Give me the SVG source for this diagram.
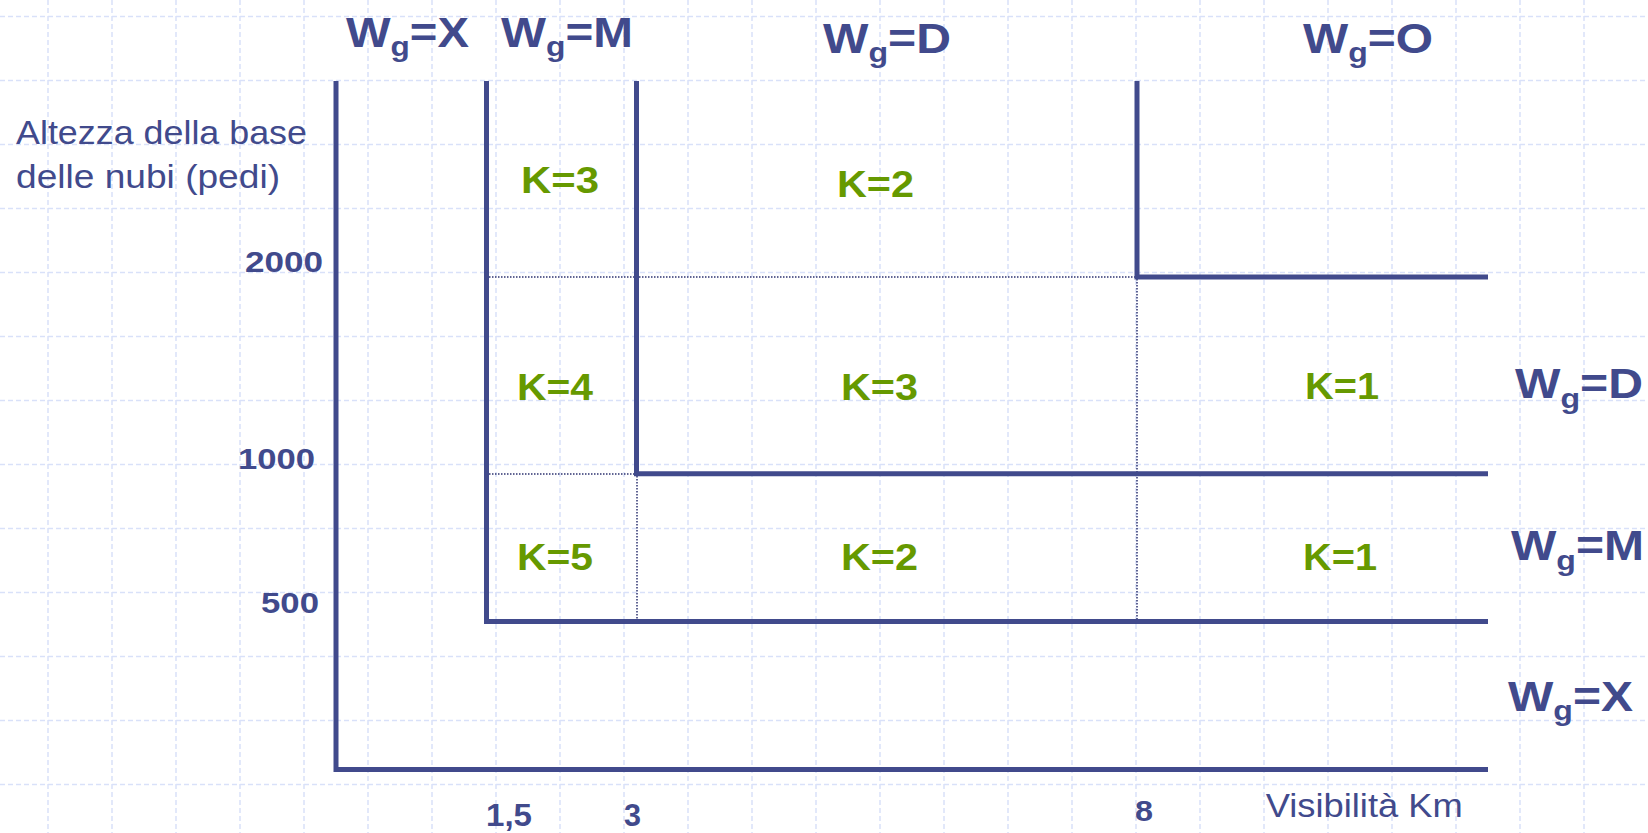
<svg xmlns="http://www.w3.org/2000/svg" width="1648" height="833" viewBox="0 0 1648 833">
<style>
.grid{stroke:#d9e1f9;stroke-width:1.5;stroke-dasharray:5 3;fill:none}
.ln{stroke:#414a8c;stroke-width:5;fill:none;stroke-linejoin:miter;stroke-linecap:butt}
.dot{stroke:#2e3370;stroke-width:1.5;stroke-dasharray:1.5 1.5;fill:none}
.wg{font-family:"Liberation Sans",Arial,sans-serif;font-weight:bold;font-size:42px;fill:#414a8c}
.sub{font-size:28px}
.k{font-family:"Liberation Sans",Arial,sans-serif;font-weight:bold;font-size:36px;fill:#669900}
.num{font-family:"Liberation Sans",Arial,sans-serif;font-weight:bold;font-size:29px;fill:#414a8c}
.reg{font-family:"Liberation Sans",Arial,sans-serif;font-size:33.5px;fill:#414a8c}
</style>
<rect width="1648" height="833" fill="#ffffff"/>
<g id="grid" class="grid">
<path d="M0 16.5H1648M0 80.5H1648M0 144.5H1648M0 208.5H1648M0 272.5H1648M0 336.5H1648M0 400.5H1648M0 464.5H1648M0 528.5H1648M0 592.5H1648M0 656.5H1648M0 720.5H1648M0 784.5H1648"/>
<path d="M48 0V833M112 0V833M176 0V833M240 0V833M304 0V833M368 0V833M432 0V833M496 0V833M560 0V833M624 0V833M688 0V833M752 0V833M816 0V833M880 0V833M944 0V833M1008 0V833M1072 0V833M1136 0V833M1200 0V833M1264 0V833M1328 0V833M1392 0V833M1456 0V833M1520 0V833M1584 0V833"/>
</g>
<g id="connectors">
<path class="dot" d="M489 277H1137M489 474H636M637 476V619M1137 279V619"/>
<polyline id="axes" class="ln" points="336,81 336,769.5 1488,769.5"/>
<polyline id="boundary-M" class="ln" points="486.5,81 486.5,621.5 1488,621.5"/>
<polyline id="boundary-D" class="ln" points="636.5,81 636.5,473.8 1488,473.8"/>
<polyline id="boundary-O" class="ln" points="1137,81 1137,277 1488,277"/>
</g>
<g id="top-labels">
<text id="top-X" class="wg" x="346" y="46.5" textLength="123" lengthAdjust="spacingAndGlyphs">W<tspan class="sub" dy="9.5">g</tspan><tspan dy="-9.5">=X</tspan></text>
<text id="top-M" class="wg" x="501" y="46.5" textLength="132" lengthAdjust="spacingAndGlyphs">W<tspan class="sub" dy="9.5">g</tspan><tspan dy="-9.5">=M</tspan></text>
<text id="top-D" class="wg" x="823" y="52.5" textLength="128" lengthAdjust="spacingAndGlyphs">W<tspan class="sub" dy="9.5">g</tspan><tspan dy="-9.5">=D</tspan></text>
<text id="top-O" class="wg" x="1303" y="52.5" textLength="130" lengthAdjust="spacingAndGlyphs">W<tspan class="sub" dy="9.5">g</tspan><tspan dy="-9.5">=O</tspan></text>
</g>
<g id="right-labels">
<text id="right-D" class="wg" x="1515" y="398" textLength="128" lengthAdjust="spacingAndGlyphs">W<tspan class="sub" dy="9.5">g</tspan><tspan dy="-9.5">=D</tspan></text>
<text id="right-M" class="wg" x="1511" y="560" textLength="133" lengthAdjust="spacingAndGlyphs">W<tspan class="sub" dy="9.5">g</tspan><tspan dy="-9.5">=M</tspan></text>
<text id="right-X" class="wg" x="1508" y="710.5" textLength="125" lengthAdjust="spacingAndGlyphs">W<tspan class="sub" dy="9.5">g</tspan><tspan dy="-9.5">=X</tspan></text>
</g>
<g id="k-values">
<text class="k" x="521" y="192.7" textLength="78" lengthAdjust="spacingAndGlyphs">K=3</text>
<text class="k" x="837" y="196.7" textLength="77" lengthAdjust="spacingAndGlyphs">K=2</text>
<text class="k" x="517" y="400" textLength="76" lengthAdjust="spacingAndGlyphs">K=4</text>
<text class="k" x="841" y="400" textLength="77" lengthAdjust="spacingAndGlyphs">K=3</text>
<text class="k" x="1305" y="399" textLength="74" lengthAdjust="spacingAndGlyphs">K=1</text>
<text class="k" x="517" y="570" textLength="76" lengthAdjust="spacingAndGlyphs">K=5</text>
<text class="k" x="841" y="570" textLength="77" lengthAdjust="spacingAndGlyphs">K=2</text>
<text class="k" x="1303" y="570" textLength="74" lengthAdjust="spacingAndGlyphs">K=1</text>
</g>
<g id="y-axis">
<text class="reg" x="16" y="144.3" textLength="291" lengthAdjust="spacingAndGlyphs">Altezza della base</text>
<text class="reg" x="16" y="188.3" textLength="264" lengthAdjust="spacingAndGlyphs">delle nubi (pedi)</text>
<text class="num" x="245" y="272.3" textLength="78" lengthAdjust="spacingAndGlyphs">2000</text>
<text class="num" x="238" y="469" textLength="77" lengthAdjust="spacingAndGlyphs">1000</text>
<text class="num" x="261" y="613" textLength="58" lengthAdjust="spacingAndGlyphs">500</text>
</g>
<g id="x-axis">
<text class="num" x="486" y="825.5" textLength="46" lengthAdjust="spacingAndGlyphs" style="font-size:31px">1,5</text>
<text class="num" x="624" y="825.5" textLength="17" lengthAdjust="spacingAndGlyphs" style="font-size:31px">3</text>
<text class="num" x="1135" y="820.5" textLength="18" lengthAdjust="spacingAndGlyphs">8</text>
<text class="reg" x="1265.7" y="816.7" textLength="197" lengthAdjust="spacingAndGlyphs" style="font-size:32.7px">Visibilità Km</text>
</g>
</svg>
